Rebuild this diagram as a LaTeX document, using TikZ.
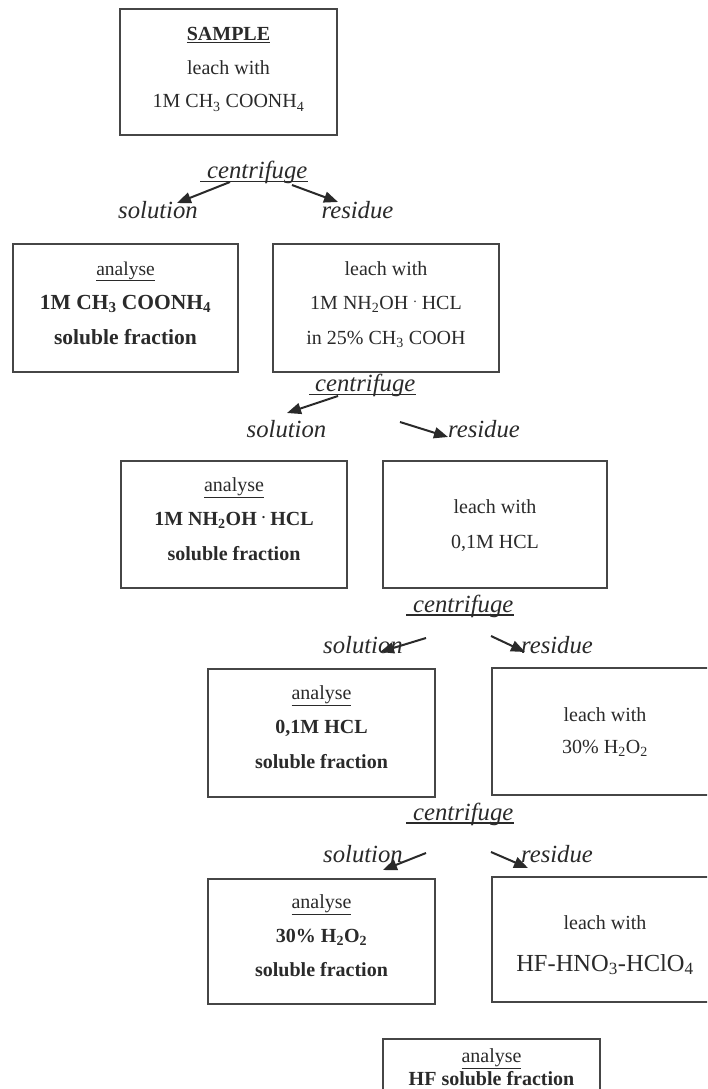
\documentclass[tikz,border=0pt]{standalone}
\usepackage{fontspec}
\setmainfont{Liberation Serif}
\usetikzlibrary{arrows.meta}
\definecolor{ink}{HTML}{2A2A2A}
\definecolor{boxc}{HTML}{464646}
\newcommand\setfs[2]{\fontsize{#1}{#2}\selectfont}
\newcommand\topst[1]{\rule{0pt}{#1pt}}
\newcommand\botst[1]{\rule[-#1pt]{0pt}{#1pt}}
\newcommand\hdot{\raisebox{7pt}{\setfs{14}{14}.}}
\begin{document}
\begin{tikzpicture}[x=1pt,y=-1pt,
  box/.style={draw=boxc, line width=1.4pt, inner sep=0pt, align=center, text=ink},
  lab/.style={font=\setfs{24.7}{30}\itshape, inner sep=0pt, text=ink, anchor=base},
  arr/.style={draw=ink, line width=2pt, -{Triangle[length=14pt,width=11pt]}},
  uline/.style={draw=ink, line width=1.1pt}]
\path[use as bounding box] (0,0) rectangle (707,1089);
\clip (0,0) rectangle (707,1089);
\fill[white] (0,0) rectangle (707,1089);

% boxes
\node[box, minimum width=217pt, minimum height=126pt, font=\setfs{20}{33.5}] (b1) at (228.5,72)
  {\topst{17}\textbf{\underline{SAMPLE}}\\ leach with\\ 1M CH\textsubscript{3} COONH\textsubscript{4}\botst{12}};

\node[box, minimum width=225pt, minimum height=128pt, font=\setfs{21.5}{34.75}\bfseries] (b2) at (125.5,308)
  {\topst{16.5}{\setfs{19.5}{34.75}\mdseries\underline{analyse}}\\ 1M CH\textsubscript{3} COONH\textsubscript{4}\\ soluble fraction\botst{13}};

\node[box, minimum width=226pt, minimum height=128pt, font=\setfs{20}{34.5}] (b3) at (386,308)
  {\topst{16}leach with\\ 1M NH\textsubscript{2}OH \hdot{} HCL\\ in 25\% CH\textsubscript{3} COOH\botst{13}};

\node[box, minimum width=226pt, minimum height=127pt, font=\setfs{20}{34.5}\bfseries] (b4) at (234,524.5)
  {\topst{16}{\mdseries\underline{analyse}}\\ 1M NH\textsubscript{2}OH \hdot{} HCL\\ soluble fraction\botst{14}};

\node[box, minimum width=224pt, minimum height=127pt, font=\setfs{20}{35}] (b5) at (495,524.5)
  {\topst{20}leach with\\ 0,1M HCL\botst{8}};

\node[box, minimum width=227pt, minimum height=128pt, font=\setfs{20}{34.5}\bfseries] (b6) at (321.5,733)
  {\topst{15}{\mdseries\underline{analyse}}\\ 0,1M HCL\\ soluble fraction\botst{14}};

\node[box, minimum width=226pt, minimum height=127pt, font=\setfs{20}{32}] (b7) at (605,731.5)
  {\topst{19}leach with\\ 30\% H\textsubscript{2}O\textsubscript{2}\botst{8}};

\node[box, minimum width=227pt, minimum height=125pt, font=\setfs{20}{34}\bfseries] (b8) at (321.5,941.5)
  {\topst{15}{\mdseries\underline{analyse}}\\ 30\% H\textsubscript{2}O\textsubscript{2}\\ soluble fraction\botst{14}};

\node[box, minimum width=226pt, minimum height=125pt, font=\setfs{20}{42}] (b9) at (605,939.5)
  {\topst{27}leach with\\ {\setfs{24.5}{42}HF-HNO\textsubscript{3}-HClO\textsubscript{4}}\botst{6}};

\node[box, minimum width=217pt, minimum height=128pt, font=\setfs{20}{22.5}] (b10) at (491.5,1103)
  {\topst{16}\underline{analyse}\\ \textbf{HF soluble fraction}\botst{74}};

% centrifuge labels
\node[lab, anchor=base west] (c1) at (200,178.5) {\hspace{7pt}centrifuge};
\node[lab, anchor=base west] (c2) at (309,391.5) {\hspace{6pt}centrifuge};
\node[lab, anchor=base west] (c3) at (406,612) {\hspace{7pt}centrifuge};
\node[lab, anchor=base west] (c4) at (406,820) {\hspace{7pt}centrifuge};
\foreach \c in {c1,c2,c3,c4}
  \draw[uline] ([yshift=-3pt]\c.base west) -- ([yshift=-3pt]\c.base east);

% solution / residue labels
\node[lab] (s1) at (158,218) {solution};
\node[lab] (r1) at (357.5,218) {residue};
\node[lab] (s2) at (286.5,437) {solution};
\node[lab] (r2) at (484,437) {residue};
\node[lab] (s3) at (363,653) {solution};
\node[lab] (r3) at (557,653) {residue};
\node[lab] (s4) at (363,862) {solution};
\node[lab] (r4) at (557,862) {residue};

% arrow ends
\coordinate (a1ls) at (230,182);  \coordinate (a1le) at (177,203);
\coordinate (a1rs) at (292,185);  \coordinate (a1re) at (338,202);
\coordinate (a2ls) at (338,396);  \coordinate (a2le) at (287,413);
\coordinate (a2rs) at (400,422);  \coordinate (a2re) at (448,437);
\coordinate (a3ls) at (426,638);  \coordinate (a3le) at (380,652);
\coordinate (a3rs) at (491,636);  \coordinate (a3re) at (525,652);
\coordinate (a4ls) at (426,853);  \coordinate (a4le) at (383,870);
\coordinate (a4rs) at (491,852);  \coordinate (a4re) at (528,868);

\draw[arr] (a1ls) -- (a1le);
\draw[arr] (a1rs) -- (a1re);
\draw[arr] (a2ls) -- (a2le);
\draw[arr] (a2rs) -- (a2re);
\draw[arr] (a3ls) -- (a3le);
\draw[arr] (a3rs) -- (a3re);
\draw[arr] (a4ls) -- (a4le);
\draw[arr] (a4rs) -- (a4re);
\end{tikzpicture}
\end{document}
